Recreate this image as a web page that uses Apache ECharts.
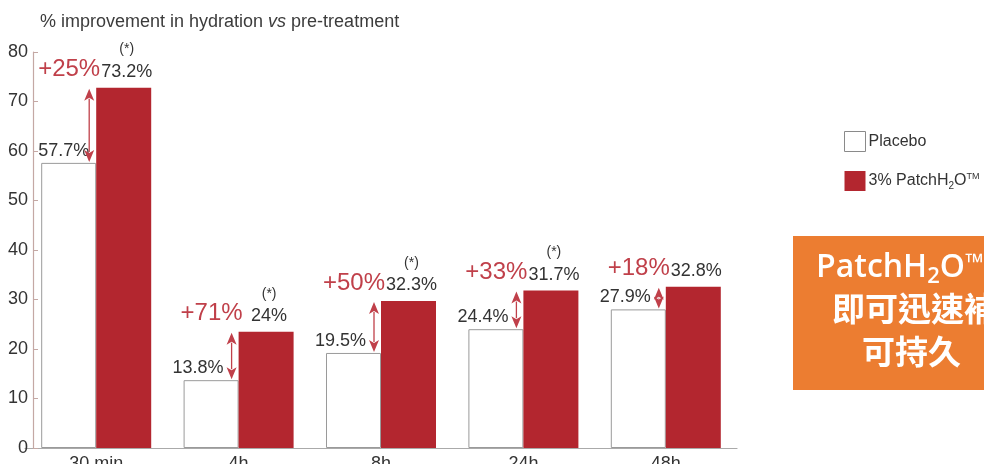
<!DOCTYPE html>
<html>
<head>
<meta charset="utf-8">
<script src="https://cdn.jsdelivr.net/npm/echarts@6/dist/echarts.min.js"></script>
<style>
html,body{margin:0;padding:0;background:#fff;}
#c{width:984px;height:464px;}
</style>
</head>
<body>
<div id="c"></div>
<script>
// ---- data ----
const categories = ['30 min', '4h', '8h', '24h', '48h'];
const placeboValues = [57.6, 13.7, 19.2, 24.0, 28.0];      // bar heights
const patchValues = [72.8, 23.5, 29.7, 31.8, 32.6];        // bar heights
const placeboLabels = ['57.7%', '13.8%', '19.5%', '24.4%', '27.9%'];
const patchLabels = ['73.2%', '24%', '32.3%', '31.7%', '32.8%'];
const significant = [true, true, true, true, false];
const improvements = ['+25%', '+71%', '+50%', '+33%', '+18%'];
const yTicks = [0, 10, 20, 30, 40, 50, 60, 70, 80];
const seriesNames = ['Placebo', '3% PatchH2O™'];
const boxLines = ['PatchH2O™', '即可迅速補', '可持久'];

// ---- styles ----
const RED = '#b3262f';
const ARROW_RED = '#c0404a';
const BAR_W = 55;
const FONT = '"Liberation Sans", Arial, sans-serif';

const chart = echarts.init(document.getElementById('c'), null, {renderer: 'canvas'});

const arrowData = categories.map((c, i) => [i, placeboValues[i], patchValues[i], improvements[i]]);

function renderArrow(params, api) {
  const idx = api.value(0);
  const pTop = api.coord([idx, api.value(1)]);
  const rTop = api.coord([idx, api.value(2)]);
  const cx = pTop[0];              // boundary between the two bars
  const x = cx - 7;
  const y1 = rTop[1] + 1;
  const y2 = pTop[1] - 1;
  const ah = 12, aw = 5;
  return {
    type: 'group',
    children: [
      {type: 'line', shape: {x1: x, y1: y1 + ah - 2, x2: x, y2: y2 - ah + 2},
        style: {stroke: ARROW_RED, lineWidth: 1.3}},
      {type: 'polygon', shape: {points: [[x, y1], [x - aw, y1 + ah], [x, y1 + ah - 3], [x + aw, y1 + ah]]},
        style: {fill: ARROW_RED}},
      {type: 'polygon', shape: {points: [[x, y2], [x - aw, y2 - ah], [x, y2 - ah + 3], [x + aw, y2 - ah]]},
        style: {fill: ARROW_RED}},
      {type: 'text', style: {text: api.value(3), x: cx + 4, y: rTop[1] - 6,
        align: 'right', verticalAlign: 'bottom', fill: ARROW_RED,
        font: '24px ' + FONT}}
    ]
  };
}

// first placebo label sits clear of the y axis
const placeboData = placeboValues.map((v, i) => i === 0 ? {value: v, label: {offset: [-5, 0]}} : v);

const option = {
  animation: false,
  backgroundColor: '#ffffff',
  title: {
    text: '{n|% improvement in hydration }{i|vs}{n| pre-treatment}',
    left: 35, top: 8,
    textStyle: {
      rich: {
        n: {fontSize: 18, fontWeight: 'normal', color: '#3c3c3c', fontFamily: FONT},
        i: {fontSize: 18, fontWeight: 'normal', color: '#3c3c3c', fontStyle: 'italic', fontFamily: FONT}
      }
    }
  },
  legend: {
    orient: 'vertical',
    left: 839, top: 126,
    itemWidth: 21, itemHeight: 20, itemGap: 19,
    icon: 'rect',
    data: [
      {name: seriesNames[0], itemStyle: {color: '#ffffff', borderColor: '#8a8a8a', borderWidth: 1}},
      {name: seriesNames[1], itemStyle: {color: RED, borderColor: RED}}
    ],
    formatter: function (name) {
      if (name === seriesNames[1]) return '{n|3% PatchH}{s|2}{n|O}{t|TM}';
      return '{n|' + name + '}';
    },
    textStyle: {
      padding: [0, 0, 0, -2],
      rich: {
        n: {fontSize: 16, color: '#333', fontFamily: FONT, lineHeight: 20},
        s: {fontSize: 10, color: '#333', fontFamily: FONT, padding: [10, 0, 0, 0], lineHeight: 20},
        t: {fontSize: 9, color: '#333', fontFamily: FONT, padding: [0, 0, 8, 0], lineHeight: 20}
      }
    }
  },
  grid: {left: 25, width: 712, top: 52, bottom: 16, containLabel: false, outerBoundsMode: 'none'},
  xAxis: {
    type: 'category',
    data: categories,
    axisLine: {lineStyle: {color: '#aaaaaa', width: 1.2}},
    axisTick: {show: false},
    axisLabel: {fontSize: 18, color: '#333', margin: 7, fontFamily: FONT}
  },
  yAxis: {
    type: 'value',
    min: yTicks[0], max: yTicks[yTicks.length - 1], interval: yTicks[1] - yTicks[0],
    offset: -8,
    axisLine: {show: true, lineStyle: {color: '#c4a8a4', width: 1.2}},
    axisTick: {show: true, inside: true, length: 5, lineStyle: {color: '#c4a8a4'}},
    splitLine: {show: false},
    axisLabel: {fontSize: 18, color: '#333', margin: 5, fontFamily: FONT}
  },
  series: [
    {
      name: seriesNames[0], type: 'bar', barWidth: BAR_W, barGap: '0%',
      data: placeboData,
      itemStyle: {color: '#ffffff', borderColor: '#9a9a9a', borderWidth: 1},
      label: {
        show: true, position: 'top', distance: 3, offset: [-13, 0],
        formatter: p => placeboLabels[p.dataIndex],
        fontSize: 18, color: '#333', fontFamily: FONT
      },
      z: 2
    },
    {
      name: seriesNames[1], type: 'bar', barWidth: BAR_W, barGap: '0%',
      data: patchValues,
      itemStyle: {color: RED},
      label: {
        show: true, position: 'top', distance: 6, offset: [3, 0],
        formatter: p => (significant[p.dataIndex] ? '{s|(*)}\n' : '') + '{v|' + patchLabels[p.dataIndex] + '}',
        rich: {
          s: {fontSize: 14, color: '#333', fontFamily: FONT, lineHeight: 24},
          v: {fontSize: 18, color: '#333', fontFamily: FONT, lineHeight: 20}
        }
      },
      z: 2
    },
    {
      type: 'custom', name: 'arrows',
      data: arrowData,
      encode: {x: 0, y: [1, 2]},
      renderItem: renderArrow,
      z: 5, silent: true
    }
  ],
  graphic: [
    {type: 'rect', left: 793, top: 236, shape: {width: 200, height: 154}, style: {fill: '#ec7d31'}, z: 1},
    {type: 'text', left: 816, top: 248, z: 2,
      style: {
        text: '{a|PatchH}{s|2}{a|O}{t|™}',
        rich: {
          a: {fontSize: 32, fontWeight: 600, fill: '#fff', fontFamily: '"Open Sans", sans-serif', lineHeight: 42},
          s: {fontSize: 22, fontWeight: 600, fill: '#fff', fontFamily: '"Open Sans", sans-serif', padding: [18, 0, 0, 0], lineHeight: 42},
          t: {fontSize: 24, fontWeight: 600, fill: '#fff', fontFamily: '"Open Sans", sans-serif', padding: [0, 0, 8, 0], lineHeight: 42}
        }
      }
    },
    {type: 'text', left: 832, top: 292, z: 2,
      style: {text: boxLines[1], fill: '#fff', font: '600 33px "Noto Sans CJK TC", sans-serif'}},
    {type: 'text', left: 862, top: 335, z: 2,
      style: {text: boxLines[2], fill: '#fff', font: '600 33px "Noto Sans CJK TC", sans-serif'}}
  ]
};
chart.setOption(option);
</script>
</body>
</html>
